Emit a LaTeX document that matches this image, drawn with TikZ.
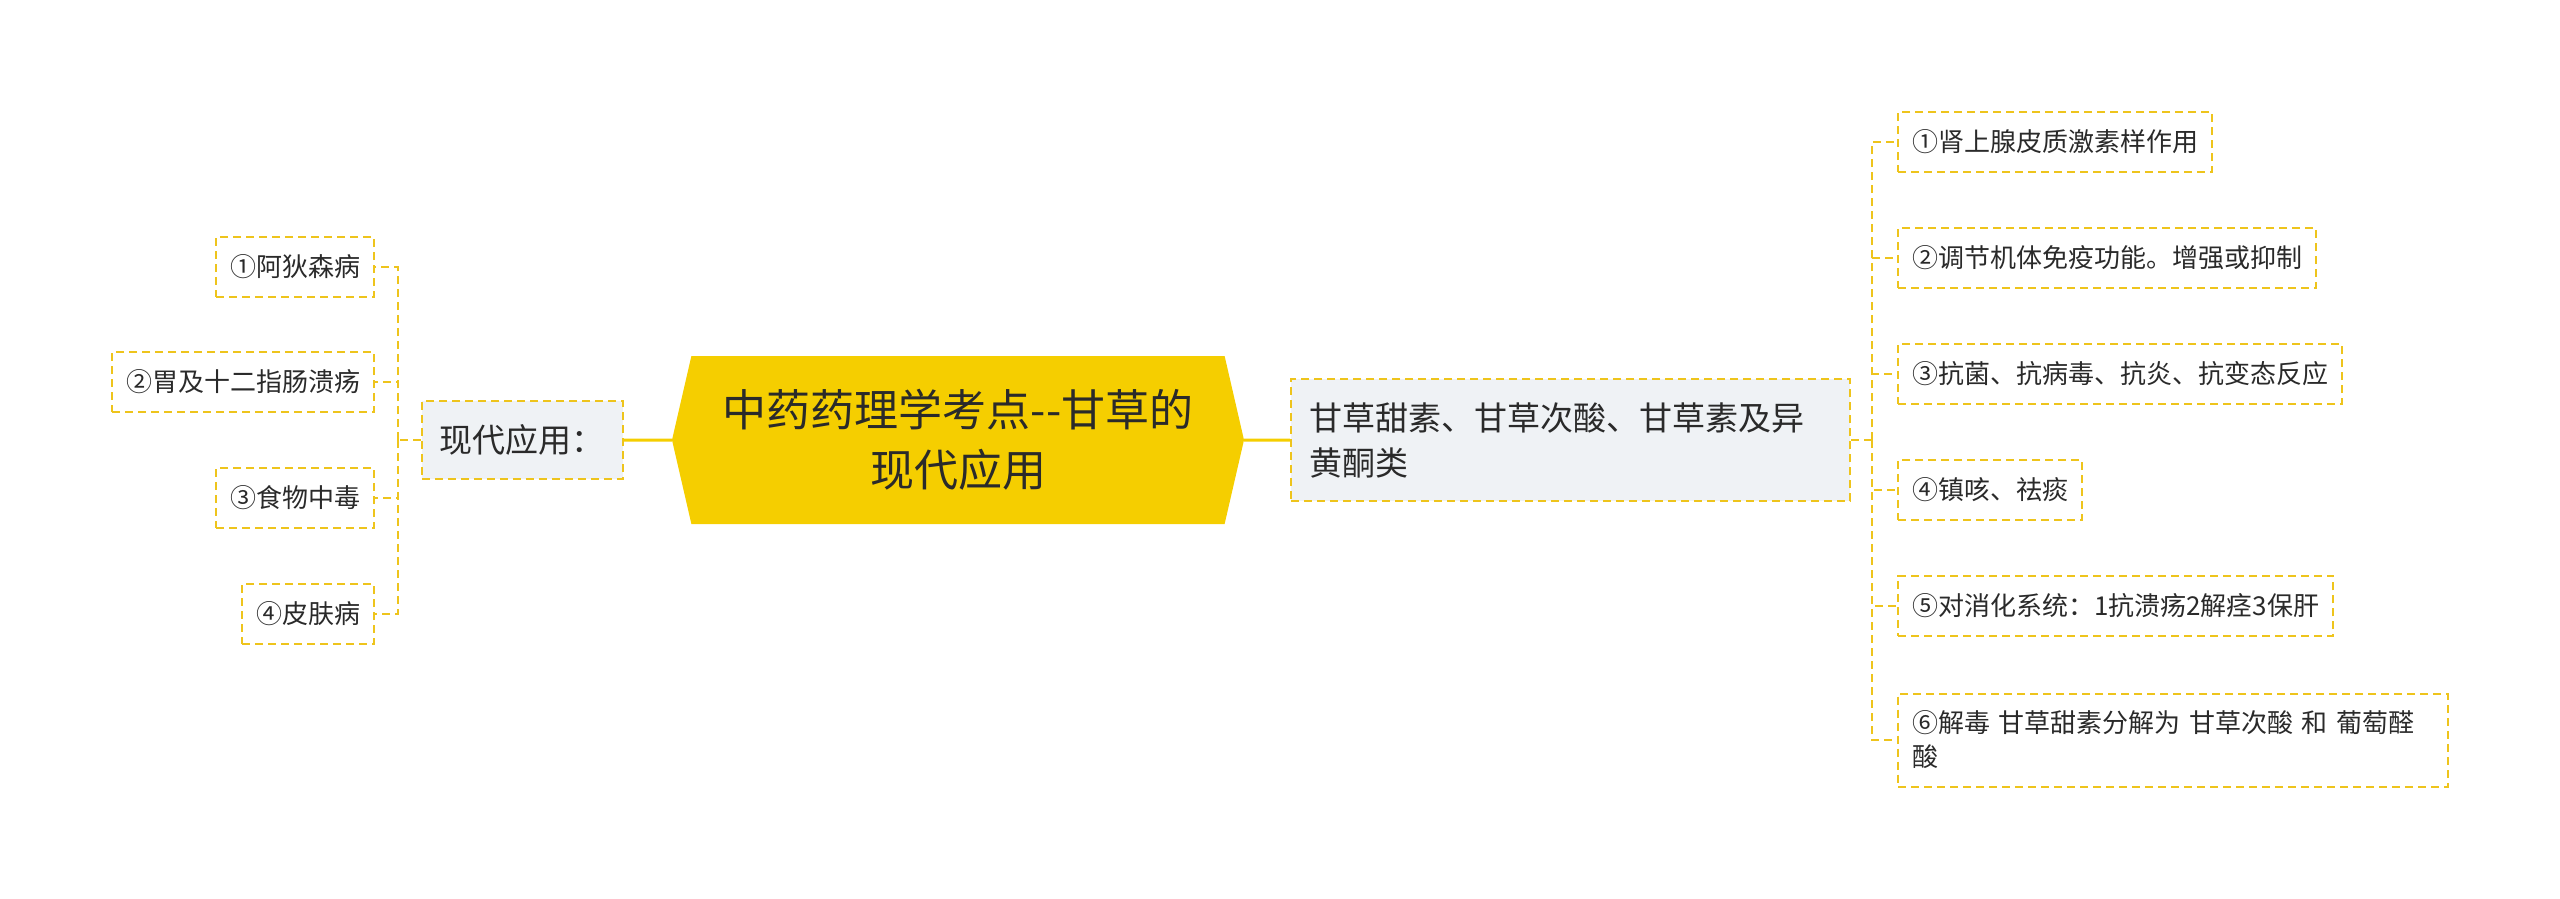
\documentclass[tikz,border=0pt]{standalone}
\usepackage{fontspec}
\setmainfont{Noto Sans CJK SC}
\usetikzlibrary{shapes.symbols, positioning}
\definecolor{hubyellow}{HTML}{F5CE00}
\definecolor{lineyellow}{HTML}{EEC41C}
\definecolor{boxgray}{HTML}{EFF2F5}
\definecolor{inkgray}{HTML}{2A2A2A}
\tikzstyle{hub} = [signal, signal to=east and west, signal pointer angle=154, fill=hubyellow, text=inkgray, align=center, minimum width=572pt, minimum height=168pt, font=\fontsize{44}{60}\selectfont]
\tikzstyle{sub} = [rectangle, draw=lineyellow, line width=2pt, dash pattern=on 8pt off 5pt, fill=boxgray, text=inkgray, inner xsep=18pt, font=\fontsize{33}{45}\selectfont]
\tikzstyle{leaf} = [rectangle, draw=lineyellow, line width=2pt, dash pattern=on 8pt off 5pt, text=inkgray, minimum height=60pt, inner xsep=14pt, font=\fontsize{26}{34}\selectfont]
\tikzstyle{link} = [draw=lineyellow, line width=2pt, dash pattern=on 8pt off 5pt]
\tikzstyle{trunk} = [draw=hubyellow, line width=3pt]

\begin{document}
\begin{tikzpicture}[x=1pt, y=-1pt]
	\useasboundingbox (0,0) rectangle (2560,898);
	\node [hub] (h) at (958,440) {中药药理学考点-{}-甘草的\\现代应用};
	\node [sub, left = 48pt of h, minimum height=78pt] (m) {现代应用：};
	\node [sub, right = 46pt of h, text width=523pt, align=left, minimum height=122pt] (g) {甘草甜素、甘草次酸、甘草素及异\\黄酮类};
	\node [leaf, anchor=east] (a1) at (375,267) {①阿狄森病};
	\node [leaf, anchor=east] (a2) at (375,382) {②胃及十二指肠溃疡};
	\node [leaf, anchor=east] (a3) at (375,498) {③食物中毒};
	\node [leaf, anchor=east] (a4) at (375,614) {④皮肤病};
	\node [leaf, anchor=west] (b1) at (1897,142) {①肾上腺皮质激素样作用};
	\node [leaf, anchor=west] (b2) at (1897,258) {②调节机体免疫功能。增强或抑制};
	\node [leaf, anchor=west] (b3) at (1897,374) {③抗菌、抗病毒、抗炎、抗变态反应};
	\node [leaf, anchor=west] (b4) at (1897,490) {④镇咳、祛痰};
	\node [leaf, anchor=west] (b5) at (1897,606) {⑤对消化系统：1抗溃疡2解痉3保肝};
	\node [leaf, anchor=west, text width=522pt, align=left, minimum height=93pt] (b6) at (1897,740) {⑥解毒 甘草甜素分解为 甘草次酸 和 葡萄醛\\酸};
	\coordinate (lj) at (398,440);
	\coordinate (rj) at (1872,440);
	\draw [trunk] (m) -- (h);
	\draw [trunk] (h) -- (g);
	\draw [link] (m.west) -- (lj);
	\foreach \n in {a1,a2,a3,a4} \draw [link] (lj) |- (\n.east);
	\draw [link] (g.east) -- (rj);
	\foreach \n in {b1,b2,b3,b4,b5,b6} \draw [link] (rj) |- (\n.west);
\end{tikzpicture}
\end{document}
